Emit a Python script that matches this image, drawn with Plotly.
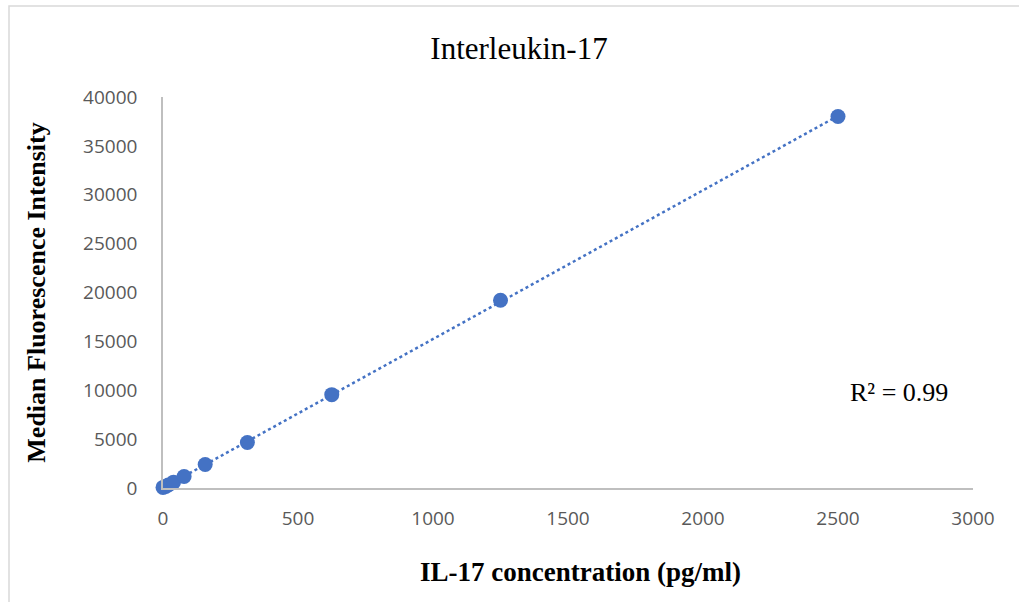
import numpy as np
import plotly.graph_objects as go

# Standard curve: IL-17 concentration (pg/ml) vs median fluorescence intensity
concentration = [0, 9.77, 19.53, 39.06, 78.125, 156.25, 312.5, 625, 1250, 2500]
mfi = [60, 160, 310, 600, 1180, 2400, 4650, 9550, 19200, 38000]
r_squared_label = "R² = 0.99"
x_title = "<b>IL-17 concentration (pg/ml)</b>"
y_title = "<b>Median Fluorescence Intensity</b>"

blue = "#4472C4"

# Linear trendline fitted to the standards
slope, intercept = np.polyfit(concentration, mfi, 1)
fit_x = np.array([min(concentration), max(concentration)])
fit_y = slope * fit_x + intercept

fig = go.Figure()
fig.add_trace(go.Scatter(
    x=fit_x, y=fit_y, mode="lines",
    line=dict(color=blue, width=2.5, dash="dot"),
    hoverinfo="skip", showlegend=False, cliponaxis=False,
))
fig.add_trace(go.Scatter(
    x=concentration, y=mfi, mode="markers",
    marker=dict(color=blue, size=15),
    showlegend=False, cliponaxis=False,
))

W, H = 1019, 602
L, R, T, B = 163, 46, 97, 114
pw, ph = W - L - R, H - T - B

def px(x):
    return (x - L) / pw

def py(y):
    return (H - B - y) / ph

tick_font = dict(family="Open Sans", size=19, color="#595959")

fig.update_layout(
    width=W, height=H,
    margin=dict(l=L, r=R, t=T, b=B),
    paper_bgcolor="white", plot_bgcolor="white",
    title=dict(
        text="Interleukin-17",
        font=dict(family="Liberation Serif", size=31, color="#000000"),
        x=519 / W, xref="container", xanchor="center",
        y=1 - 48 / H, yref="container", yanchor="middle",
    ),
    xaxis=dict(
        range=[0, 3000], dtick=500, showgrid=False, zeroline=False,
        showline=True, linecolor="#BFBFBF", linewidth=1.5,
        ticks="", tickfont=tick_font, tickformat="d",
        ticklabelstandoff=12,
    ),
    yaxis=dict(
        range=[0, 40000], dtick=5000, showgrid=False, zeroline=False,
        showline=True, linecolor="#BFBFBF", linewidth=1.5,
        ticks="", tickfont=tick_font, tickformat="d",
        ticklabelstandoff=20,
        title=dict(text=y_title,
                   font=dict(family="Liberation Serif", size=26, color="#000000"),
                   standoff=30),
    ),
    annotations=[
        dict(
            text=r_squared_label, xref="paper", yref="paper",
            x=px(899), y=py(392), xanchor="center", yanchor="middle",
            showarrow=False,
            font=dict(family="Liberation Serif", size=26, color="#000000"),
        ),
        dict(
            text=x_title, xref="paper", yref="paper",
            x=px(580), y=py(572), xanchor="center", yanchor="middle",
            showarrow=False,
            font=dict(family="Liberation Serif", size=27, color="#000000"),
        ),
    ],
    shapes=[dict(
        type="rect", xref="paper", yref="paper",
        x0=px(9), x1=px(1040), y0=py(620), y1=py(6),
        line=dict(color="#D9D9D9", width=1.5), fillcolor="rgba(0,0,0,0)",
        layer="below",
    )],
)

fig.write_html("out.html")
